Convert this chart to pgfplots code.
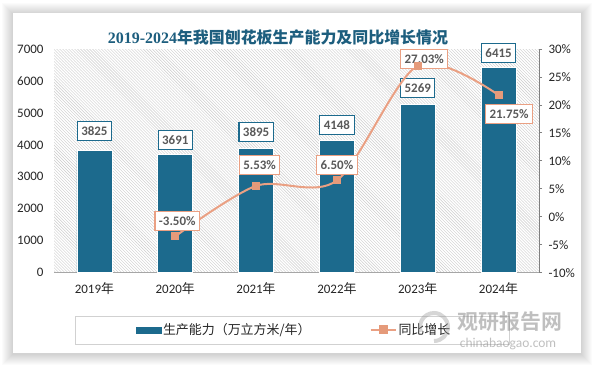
\documentclass[border=0pt]{standalone}
\usepackage{pgfplots}
\pgfplotsset{compat=1.18}
\usepackage{fontspec}
\setmainfont{Carlito}
\newfontfamily\cjk{Noto Sans CJK SC}
\newfontfamily\cjkb{Noto Sans CJK SC Bold}
\newfontfamily\titleserif{Liberation Serif}
\usetikzlibrary{patterns}
\definecolor{barblue}{HTML}{1C6A8D}
\definecolor{lineor}{HTML}{EAA083}
\definecolor{markor}{HTML}{E59A7A}
\definecolor{lblgray}{HTML}{595959}
\definecolor{titleblue}{HTML}{1D5E7E}
\tikzset{
  barlbl/.style={draw=barblue, line width=1.1bp, fill=white, text=lblgray, font=\bfseries\fontsize{13}{13}\selectfont, inner xsep=4bp, inner ysep=0bp, minimum height=19bp},
  linelbl/.style={draw=lineor, line width=1.1bp, fill=white, text=lblgray, font=\bfseries\fontsize{13}{13}\selectfont, inner xsep=4bp, inner ysep=0bp, minimum height=19bp},
}
\begin{document}
\begin{tikzpicture}[x=1bp,y=1bp]
\useasboundingbox (0,0) rectangle (594,366);
\fill[white] (0,0) rectangle (594,366);
\foreach \i in {1,...,11} { \fill[black, opacity=0.016] (12.5-\i,13-\i-1) rectangle (580.5+\i,353+\i-1); }
\fill[white] (12.5,13) rectangle (580.5,353);
\node[text=titleblue, font=\fontsize{16}{16}\selectfont] at (278,328) {\titleserif\bfseries 2019-2024\cjkb 年我国刨花板生产能力及同比增长情况};

\begin{axis}[
  at={(54bp,93.3bp)}, anchor=south west, scale only axis,
  width=485bp, height=223.7bp,
  xmin=-0.5, xmax=5.5, ymin=0, ymax=7000,
  axis x line*=bottom, axis y line*=left,
  x axis line style={draw=black!35, line width=0.8bp, -},
  y axis line style={draw=none},
  xtick={0,...,5},
  xticklabels={2019{\cjk 年},2020{\cjk 年},2021{\cjk 年},2022{\cjk 年},2023{\cjk 年},2024{\cjk 年}},
  ytick={0,1000,...,7000},
  major tick length=0pt, tick style={draw=none},
  /pgf/number format/assume math mode=true,
  /pgf/number format/set thousands separator={},
  ticklabel style={font=\fontsize{13}{13}\selectfont, text=black!85},
  yticklabel style={xshift=-7bp},
  xticklabel style={yshift=-6bp},
  axis background/.style={pattern=north west lines, pattern color=black!20},
  clip=false,
]
\addplot[ybar, bar width=0.433, fill=barblue, draw=white, line width=0.6bp] coordinates {(0,3825)(1,3691)(2,3895)(3,4148)(4,5269)(5,6415)};
\node[barlbl, anchor=south, yshift=9.5bp] at (axis cs:0,3825) {3825};
\node[barlbl, anchor=south, yshift=4.7bp] at (axis cs:1,3691) {3691};
\node[barlbl, anchor=south, yshift=6bp] at (axis cs:2,3895) {3895};
\node[barlbl, anchor=south, yshift=5bp] at (axis cs:3,4148) {4148};
\node[barlbl, anchor=south, yshift=6bp] at (axis cs:4,5269) {5269};
\node[barlbl, anchor=south, yshift=4.4bp] at (axis cs:5,6415) {6415};
\end{axis}

\begin{axis}[
  at={(54bp,93.3bp)}, anchor=south west, scale only axis,
  width=485bp, height=223.7bp,
  xmin=-0.5, xmax=5.5, ymin=-10, ymax=30,
  axis y line*=right, axis x line=none,
  y axis line style={draw=black!50, line width=0.8bp, -},
  ytick={-10,-5,...,30},
  yticklabel={\pgfmathprintnumber{\tick}\%},
  /pgf/number format/assume math mode=true,
  tick align=outside, major tick length=3bp,
  ytick style={draw=black!50, line width=0.8bp},
  ticklabel style={font=\fontsize{13}{13}\selectfont, text=black!85},
  yticklabel style={xshift=3bp},
  legend style={at={(axis description cs:0.4948,-0.256)}, anchor=center, draw=none, fill=none,
    font=\cjk\fontsize{13}{15}\selectfont, text=black!85, legend columns=2,
    /tikz/every even column/.append style={column sep=57bp}},
  clip=false,
]
\addlegendimage{legend image code/.code={\fill[barblue] (0bp,-3bp) rectangle (25bp,3bp);}}
\addlegendentry{生产能力（万立方米/年）}
\addplot[lineor, line width=2bp, smooth, tension=0.5, mark=square*, mark size=3.5bp,
  mark options={fill=markor, draw=markor, line width=0pt},
  legend image code/.code={\draw[lineor,line width=2bp] (0bp,0bp)--(25bp,0bp); \fill[markor] (9bp,-3.5bp) rectangle (16bp,3.5bp);}]
  coordinates {(1,-3.50)(2,5.53)(3,6.50)(4,27.03)(5,21.75)};
\addlegendentry{同比增长}
\node[linelbl, anchor=south, yshift=5bp, xshift=2bp] at (axis cs:1,-3.50) {-3.50\%};
\node[linelbl, anchor=south, yshift=10.8bp, xshift=3.5bp] at (axis cs:2,5.53) {5.53\%};
\node[linelbl, anchor=south, yshift=5.4bp] at (axis cs:3,6.50) {6.50\%};
\node[linelbl, anchor=center, yshift=6.5bp, xshift=6.5bp] at (axis cs:4,27.03) {27.03\%};
\node[linelbl, anchor=north, yshift=-9bp, xshift=10.5bp] at (axis cs:5,21.75) {21.75\%};
\end{axis}

\draw[black!18, line width=0.8bp] (75,22) rectangle (509,50);
\node[text=black!45, opacity=0.55, font=\cjkb\fontsize{21}{21}\selectfont] at (510,44) {观研报告网};
\node[text=black!45, opacity=0.55, font=\fontsize{13.5}{13.5}\selectfont] at (508,22) {chinabaogao.com};
\draw[black!40, opacity=0.4, line width=4bp] (434,25) arc (-90:200:14);
\end{tikzpicture}
\end{document}
